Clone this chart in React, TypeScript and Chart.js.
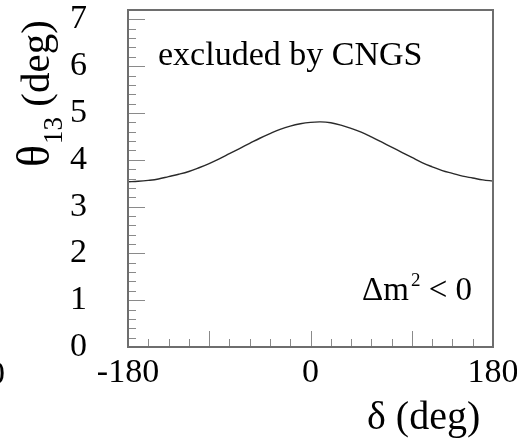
import React, { useEffect, useRef } from 'react';
import { Chart, registerables } from 'chart.js';

Chart.register(...registerables);

// ---- data ----
const deltaDeg = [
  -180, -170, -160, -150, -140, -130, -120, -110, -100, -90, -80, -70, -60, -50, -40, -30, -20, -10,
  0, 10, 20, 30, 40, 50, 60, 70, 80, 90, 100, 110, 120, 130, 140, 150, 160, 170, 180,
];
const theta13 = [
  3.53, 3.54, 3.56, 3.59, 3.64, 3.69, 3.75, 3.83, 3.92, 4.02, 4.13, 4.24, 4.35, 4.46, 4.56, 4.65, 4.72, 4.77,
  4.8, 4.81, 4.79, 4.74, 4.67, 4.59, 4.49, 4.38, 4.27, 4.16, 4.05, 3.94, 3.85, 3.77, 3.71, 3.65, 3.61, 3.57, 3.545,
];

const xTickLabels = [-180, 0, 180];
const yTickLabels = [0, 1, 2, 3, 4, 5, 6, 7];
const xMajorTickMarks = [-100, 0, 100];
const xMinorTickMarks = [-160, -140, -120, -80, -60, -40, -20, 20, 40, 60, 80, 120, 140, 160];
const yMinorStep = 0.2;

const annotationTop = 'excluded by CNGS';
const yTitleSymbol = 'θ';
const yTitleSub = '13';
const yTitleUnit = ' (deg)';
const xTitleSymbol = 'δ';
const xTitleUnit = ' (deg)';

const SERIF = '"Liberation Serif", "Times New Roman", serif';

const decorPlugin = {
  id: 'decor',
  afterDraw(chart: any) {
    const { ctx, chartArea: a, scales } = chart;
    const x = scales.x;
    const y = scales.y;
    ctx.save();

    // tick marks (inward)
    ctx.strokeStyle = '#8a8a8a';
    ctx.lineWidth = 1;
    const vline = (v: number, len: number) => {
      const px = Math.round(x.getPixelForValue(v)) + 0.5;
      ctx.beginPath();
      ctx.moveTo(px, a.bottom);
      ctx.lineTo(px, a.bottom - len);
      ctx.stroke();
    };
    xMinorTickMarks.forEach((v) => vline(v, 8));
    xMajorTickMarks.forEach((v) => vline(v, 16));

    const yMax = y.max;
    for (let i = 1; i * yMinorStep < yMax - 1e-6; i++) {
      const v = i * yMinorStep;
      const major = i % 5 === 0;
      const py = Math.round(y.getPixelForValue(v)) + 0.5;
      ctx.beginPath();
      ctx.moveTo(a.left, py);
      ctx.lineTo(a.left + (major ? 17 : 8), py);
      ctx.stroke();
    }

    // frame
    ctx.strokeStyle = '#6e6e6e';
    ctx.lineWidth = 2;
    ctx.strokeRect(a.left, a.top, a.right - a.left, a.bottom - a.top);

    ctx.fillStyle = '#000';
    ctx.textBaseline = 'alphabetic';
    ctx.textAlign = 'left';

    // annotation top
    ctx.font = `34px ${SERIF}`;
    ctx.fillText(annotationTop, a.left + 30, a.top + 55);

    // annotation bottom-right: Δm² < 0
    const bx = a.left + 234;
    const by = a.bottom - 47;
    ctx.font = `33px ${SERIF}`;
    const p1 = 'Δm';
    ctx.fillText(p1, bx, by);
    let cx = bx + ctx.measureText(p1).width;
    ctx.font = `19px ${SERIF}`;
    ctx.fillText('2', cx + 2, by - 14);
    cx += 2 + ctx.measureText('2').width;
    ctx.font = `33px ${SERIF}`;
    ctx.fillText(' < 0', cx, by);

    // x title
    ctx.font = `40px ${SERIF}`;
    ctx.fillText(xTitleSymbol, 367, 429);
    const dw = ctx.measureText(xTitleSymbol).width;
    ctx.font = `40px ${SERIF}`;
    ctx.fillText(xTitleUnit, 367 + dw, 429);

    // y title (rotated)
    ctx.save();
    ctx.translate(49, 167);
    ctx.rotate(-Math.PI / 2);
    ctx.font = `46px ${SERIF}`;
    ctx.fillText(yTitleSymbol, 0, 0);
    let tx = ctx.measureText(yTitleSymbol).width + 1;
    ctx.font = `27px ${SERIF}`;
    ctx.fillText(yTitleSub, tx, 13);
    tx += ctx.measureText(yTitleSub).width;
    ctx.font = `41px ${SERIF}`;
    ctx.fillText(yTitleUnit, tx, 0);
    ctx.restore();

    // fragment of neighbouring panel label at far left
    ctx.font = `34px ${SERIF}`;
    ctx.textAlign = 'right';
    ctx.fillText('180', 5, 384);

    ctx.restore();
  },
};

export default function App() {
  const ref = useRef<HTMLCanvasElement | null>(null);

  useEffect(() => {
    if (!ref.current) return;
    const chart = new Chart(ref.current, {
      type: 'line',
      data: {
        labels: deltaDeg,
        datasets: [
          {
            data: deltaDeg.map((d, i) => ({ x: d, y: theta13[i] })),
            borderColor: '#2a2a2a',
            borderWidth: 1.4,
            pointRadius: 0,
            fill: false,
            tension: 0.4,
          },
        ],
      },
      options: {
        responsive: false,
        animation: false,
        events: [],
        layout: { padding: { left: 0, top: 10, right: 24, bottom: 0 } },
        plugins: {
          legend: { display: false },
          tooltip: { enabled: false },
          title: { display: false },
        },
        scales: {
          x: {
            type: 'linear',
            min: -180,
            max: 180,
            grid: { display: false, drawTicks: false },
            border: { display: false },
            afterBuildTicks: (s: any) => {
              s.ticks = xTickLabels.map((v) => ({ value: v }));
            },
            afterFit: (s: any) => {
              s.height = 95;
              s.paddingLeft = 0;
              s.paddingRight = 0;
            },
            ticks: {
              autoSkip: false,
              maxRotation: 0,
              padding: 6,
              color: '#000',
              font: { family: SERIF, size: 34 },
            },
          },
          y: {
            type: 'linear',
            min: 0,
            max: 7.2,
            grid: { display: false, drawTicks: false },
            border: { display: false },
            afterBuildTicks: (s: any) => {
              s.ticks = yTickLabels.map((v) => ({ value: v }));
            },
            afterFit: (s: any) => {
              s.width = 128;
              s.paddingTop = 0;
              s.paddingBottom = 0;
            },
            ticks: {
              autoSkip: false,
              padding: 41,
              color: '#000',
              font: { family: SERIF, size: 34 },
            },
          },
        },
      },
      plugins: [decorPlugin],
    });
    return () => chart.destroy();
  }, []);

  return (
    <div style={{ position: 'fixed', left: 0, top: 0, width: 517, height: 442, background: '#fff' }}>
      <canvas ref={ref} width={517} height={442} style={{ width: 517, height: 442, display: 'block' }} />
    </div>
  );
}
